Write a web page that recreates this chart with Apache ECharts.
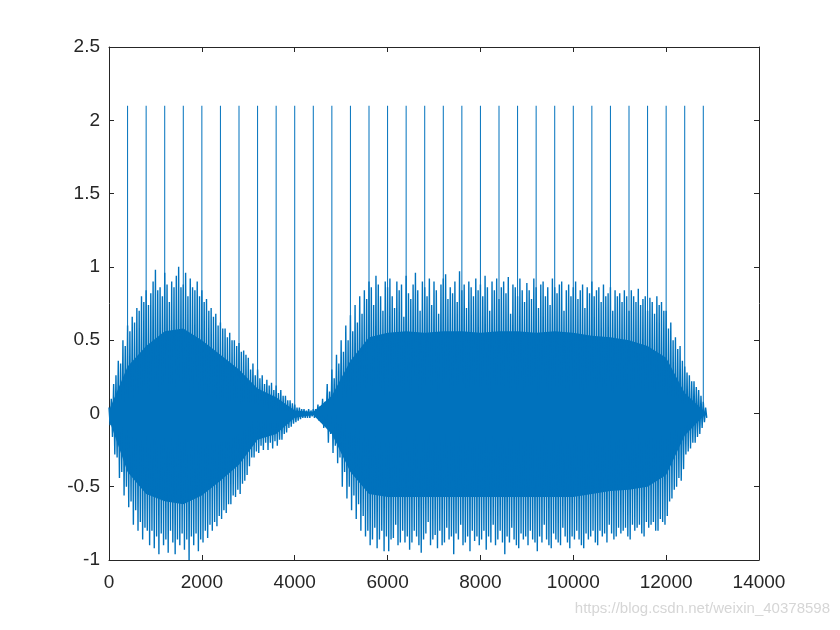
<!DOCTYPE html>
<html><head><meta charset="utf-8">
<script src="https://cdn.jsdelivr.net/npm/echarts@6/dist/echarts.min.js"></script>
<style>html,body{margin:0;padding:0;background:#fff}#c{width:840px;height:630px}</style>
</head><body><div id="c"></div>
<script>
// Envelope readings: one positive and one negative peak per 50-sample bin (0 .. 12850)
var binStep = 50;
var peakHi = [
0.04,0.1,0.2,0.26,0.36,0.34,0.5,0.46,0.6,0.56,
0.66,0.62,0.72,0.7,0.8,0.76,0.84,0.74,0.82,0.9,
0.98,0.84,0.86,0.8,0.96,0.88,0.76,0.9,0.86,0.94,
1.0,0.86,0.88,0.96,0.8,0.92,0.86,0.84,0.9,0.8,
0.84,0.76,0.78,0.7,0.72,0.66,0.68,0.6,0.62,0.58,
0.58,0.52,0.55,0.5,0.5,0.46,0.48,0.42,0.43,0.4,
0.38,0.3,0.34,0.26,0.3,0.24,0.26,0.2,0.23,0.19,
0.21,0.16,0.19,0.14,0.16,0.12,0.12,0.09,0.09,0.07,
0.06,0.04,0.04,0.03,0.03,0.02,0.03,0.02,0.03,0.03,
0.06,0.05,0.1,0.08,0.2,0.15,0.3,0.24,0.4,0.34,
0.5,0.42,0.6,0.5,0.67,0.56,0.74,0.62,0.8,0.68,
0.84,0.78,0.9,0.86,0.74,0.94,0.88,0.8,0.7,0.9,
0.86,0.92,0.8,0.72,0.9,0.84,0.88,0.66,0.94,0.82,
0.78,0.88,0.96,0.84,0.7,0.9,0.86,0.8,0.92,0.74,
0.9,0.84,0.68,0.88,0.92,0.95,0.78,0.86,0.82,0.9,
0.76,0.97,0.84,0.88,0.72,0.9,0.86,0.8,0.92,0.84,
0.88,0.8,0.94,0.86,0.7,0.9,0.84,0.92,0.78,0.86,
0.9,0.82,0.93,0.68,0.88,0.86,0.8,0.92,0.84,0.76,
0.89,0.84,0.78,0.92,0.86,0.72,0.88,0.9,0.8,0.86,
0.74,0.92,0.86,0.82,0.88,0.9,0.7,0.84,0.88,0.8,
0.86,0.9,0.78,0.84,0.88,0.72,0.86,0.82,0.9,0.8,
0.84,0.86,0.76,0.88,0.8,0.82,0.86,0.7,0.84,0.8,
0.82,0.76,0.84,0.8,0.7,0.84,0.8,0.76,0.85,0.74,
0.78,0.8,0.7,0.79,0.76,0.68,0.8,0.74,0.76,0.7,
0.7,0.58,0.62,0.5,0.52,0.44,0.46,0.36,0.32,0.28,
0.26,0.22,0.22,0.18,0.16,0.12,0.08,0.04];
var peakLo = [
-0.08,-0.16,-0.28,-0.3,-0.44,-0.4,-0.56,-0.5,-0.64,-0.6,
-0.76,-0.66,-0.8,-0.74,-0.86,-0.78,-0.8,-0.9,-0.8,-0.92,
-0.84,-0.96,-0.82,-0.9,-0.86,-0.95,-0.8,-0.88,-0.96,-0.86,
-0.9,-0.82,-0.93,-0.86,-1.0,-0.84,-0.9,-0.82,-0.94,-0.86,
-0.88,-0.8,-0.85,-0.76,-0.8,-0.74,-0.77,-0.7,-0.72,-0.66,
-0.68,-0.62,-0.62,-0.56,-0.57,-0.52,-0.55,-0.48,-0.46,-0.42,
-0.36,-0.3,-0.3,-0.26,-0.27,-0.22,-0.25,-0.2,-0.25,-0.2,
-0.24,-0.19,-0.22,-0.18,-0.18,-0.14,-0.13,-0.1,-0.09,-0.07,
-0.06,-0.05,-0.04,-0.03,-0.03,-0.03,-0.03,-0.02,-0.03,-0.03,
-0.05,-0.06,-0.1,-0.08,-0.2,-0.14,-0.27,-0.22,-0.34,-0.3,
-0.5,-0.4,-0.58,-0.5,-0.66,-0.56,-0.72,-0.62,-0.8,-0.7,
-0.84,-0.8,-0.9,-0.86,-0.78,-0.92,-0.86,-0.8,-0.94,-0.84,
-0.94,-0.86,-0.85,-0.76,-0.9,-0.88,-0.8,-0.88,-0.84,-0.93,
-0.88,-0.8,-0.84,-0.9,-0.95,-0.86,-0.82,-0.74,-0.9,-0.86,
-0.83,-0.92,-0.8,-0.9,-0.88,-0.78,-0.86,-0.84,-0.96,-0.82,
-0.86,-0.76,-0.9,-0.88,-0.84,-0.94,-0.8,-0.87,-0.84,-0.9,
-0.86,-0.8,-0.93,-0.84,-0.88,-0.76,-0.9,-0.86,-0.8,-0.88,
-0.96,-0.84,-0.88,-0.78,-0.86,-0.9,-0.92,-0.82,-0.86,-0.84,
-0.9,-0.8,-0.86,-0.88,-0.94,-0.84,-0.88,-0.76,-0.86,-0.9,
-0.92,-0.82,-0.86,-0.88,-0.9,-0.78,-0.84,-0.88,-0.92,-0.84,
-0.86,-0.8,-0.86,-0.9,-0.92,-0.82,-0.86,-0.84,-0.8,-0.88,
-0.9,-0.8,-0.84,-0.82,-0.88,-0.76,-0.82,-0.86,-0.84,-0.78,
-0.82,-0.8,-0.78,-0.84,-0.86,-0.76,-0.8,-0.78,-0.76,-0.82,
-0.84,-0.74,-0.78,-0.76,-0.74,-0.8,-0.8,-0.72,-0.74,-0.76,
-0.7,-0.6,-0.58,-0.52,-0.5,-0.44,-0.46,-0.38,-0.28,-0.26,
-0.24,-0.2,-0.2,-0.16,-0.14,-0.1,-0.06,-0.03];
// Dense core band, one reading per 400 samples (0 .. 12800)
var coreStep = 400;
var coreHi = [0.02,0.32,0.46,0.56,0.58,0.5,0.4,0.3,0.17,0.11,0.02,0.01,0.12,0.36,0.52,0.55,0.56,0.55,0.56,0.56,0.55,0.56,0.56,0.55,0.56,0.55,0.53,0.52,0.5,0.46,0.38,0.14,0.02];
var coreLo = [-0.04,-0.4,-0.55,-0.6,-0.62,-0.56,-0.46,-0.35,-0.18,-0.14,-0.03,-0.01,-0.14,-0.4,-0.55,-0.57,-0.57,-0.57,-0.57,-0.57,-0.57,-0.57,-0.57,-0.57,-0.57,-0.57,-0.55,-0.53,-0.52,-0.5,-0.42,-0.15,-0.02];
// Impulses
var spikeX = [400,800,1200,1600,2000,2400,2800,3200,3600,4000,4400,4800,5200,5600,6000,6400,6800,7200,7600,8000,8400,8800,9200,9600,10000,10400,10800,11200,11600,12000,12400,12800];
var spikeY = [2.1,2.1,2.1,2.1,2.1,2.1,2.1,2.1,2.1,2.1,2.1,2.1,2.1,2.1,2.1,2.1,2.1,2.1,2.1,2.1,2.1,2.1,2.1,2.1,2.1,2.1,2.1,2.1,2.1,2.1,2.1,2.1];
var xTicks = {min:0,max:14000,interval:2000};
var yTicks = {min:-1,max:2.5,interval:0.5};

var zig = [];
for (var i=0;i<peakHi.length;i++){ zig.push([i*binStep, peakHi[i]]); zig.push([i*binStep+binStep/2, peakLo[i]]); }
var spk = spikeX.map(function(x,i){return [x,spikeY[i]];});

var C = '#0072BD', AX = '#262626';
var font = {color:AX,fontSize:19,fontFamily:'Liberation Sans, Arial, sans-serif'};
function fmt(v){return String(v);}
function xa(pos,lab){return {type:'value',position:pos,min:xTicks.min,max:xTicks.max,interval:xTicks.interval,
  axisLine:{show:true,onZero:false,lineStyle:{color:AX,width:1}},axisTick:{show:true,inside:true,length:5,lineStyle:{color:AX}},
  splitLine:{show:false},axisLabel:Object.assign({show:lab,margin:13,formatter:fmt},font)};}
function ya(pos,lab){return {type:'value',position:pos,min:yTicks.min,max:yTicks.max,interval:yTicks.interval,
  axisLine:{show:true,onZero:false,lineStyle:{color:AX,width:1}},axisTick:{show:true,inside:true,length:5,lineStyle:{color:AX}},
  splitLine:{show:false},axisLabel:Object.assign({show:lab,margin:9,formatter:fmt},font)};}

var chart = echarts.init(document.getElementById('c'),null,{renderer:'canvas'});
chart.setOption({
  animation:false,
  backgroundColor:'#fff',
  grid:{left:109,top:47,right:81,bottom:70,containLabel:false},
  xAxis:[xa('bottom',true),xa('top',false)],
  yAxis:[ya('left',true),ya('right',false)],
  graphic:[{type:'text',right:10,top:601,style:{text:'https://blog.csdn.net/weixin_40378598',fill:'#d6d6d6',fontSize:15,fontFamily:'Liberation Sans, Arial, sans-serif'}}],
  series:[
    {type:'custom',data:[[0,0]],silent:true,renderItem:function(params,api){
      var pts=[],i;
      for(i=0;i<coreHi.length;i++) pts.push(api.coord([i*coreStep,coreHi[i]]));
      for(i=coreLo.length-1;i>=0;i--) pts.push(api.coord([i*coreStep,coreLo[i]]));
      return {type:'polygon',shape:{points:pts},style:{fill:C}};
    }},
    {type:'line',data:zig,symbol:'none',sampling:null,lineStyle:{color:C,width:1.4},silent:true},
    {type:'bar',data:spk,barWidth:1,itemStyle:{color:C},silent:true}
  ]
});
</script></body></html>
